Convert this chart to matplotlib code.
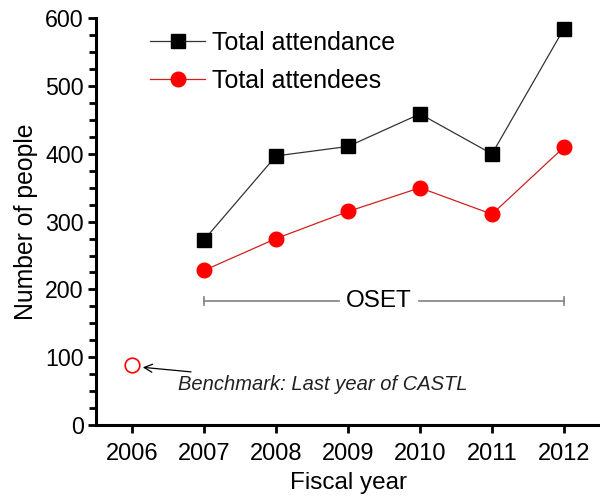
import matplotlib
matplotlib.use('Agg')
import matplotlib.pyplot as plt
from matplotlib.ticker import MultipleLocator

plt.rcParams['font.family'] = ['Liberation Sans', 'DejaVu Sans']

years = [2007, 2008, 2009, 2010, 2011, 2012]
total_attendance = [273, 397, 411, 459, 400, 585]
total_attendees = [228, 275, 315, 350, 311, 410]
benchmark_year = 2006
benchmark_value = 88
oset_span = (2007, 2012)
oset_level = 183
tick_years = [2006, 2007, 2008, 2009, 2010, 2011, 2012]

fig = plt.figure(figsize=(6, 4.97), dpi=100)
ax = fig.add_axes([0.16, 0.145, 0.84, 0.818])

ax.plot(years, total_attendance, color='#333333', lw=0.9, marker='s', ms=10,
        mfc='black', mec='black', label='Total attendance')
ax.plot(years, total_attendees, color='#d02020', lw=0.9, marker='o', ms=10.5,
        mfc='#ff0000', mec='#ff0000', label='Total attendees')
ax.plot([benchmark_year], [benchmark_value], marker='o', ms=10.5, mfc='white',
        mec='#ff0000', mew=1.2, ls='none')

# OSET span bar
ax.plot([oset_span[0], 2008.88], [oset_level, oset_level], color='#808080', lw=1.2)
ax.plot([2009.99, oset_span[1]], [oset_level, oset_level], color='#808080', lw=1.2)
for xx in oset_span:
    ax.plot([xx, xx], [oset_level - 6, oset_level + 6], color='#808080', lw=1.2)
ax.text(2009.43, oset_level, 'OSET', ha='center', va='center', fontsize=17.5)

ax.annotate('Benchmark: Last year of CASTL', xy=(benchmark_year + 0.15, 85),
            xytext=(2006.64, 60), fontsize=14.5, style='italic', color='#222222',
            va='center', ha='left',
            arrowprops=dict(arrowstyle='->', color='black', lw=0.9, shrinkA=1, shrinkB=0))

ax.set_xlim(2005.5, 2012.5)
ax.set_ylim(0, 600)
ax.set_xticks(tick_years)
ax.set_xticklabels([str(y) for y in tick_years])
ax.yaxis.set_major_locator(MultipleLocator(100))
ax.yaxis.set_minor_locator(MultipleLocator(25))

for s in ['top', 'right']:
    ax.spines[s].set_visible(False)
for s in ['left', 'bottom']:
    ax.spines[s].set_linewidth(2.2)
ax.tick_params(axis='both', which='major', direction='out', length=6, width=2)
ax.tick_params(axis='y', which='major', labelsize=16.7, pad=3)
ax.tick_params(axis='x', which='major', labelsize=17, pad=7)
ax.tick_params(axis='y', which='minor', direction='out', length=5, width=2)

ax.set_xlabel('Fiscal year', fontsize=17.5, labelpad=5)
ax.set_ylabel('Number of people', fontsize=17.8, labelpad=5)

ax.legend(loc='upper left', bbox_to_anchor=(0.108, 0.97), frameon=False, fontsize=18,
          borderaxespad=0, borderpad=0,
          handlelength=2.2, handletextpad=0.25, labelspacing=0.57)

fig.savefig('out.png', dpi=100)
